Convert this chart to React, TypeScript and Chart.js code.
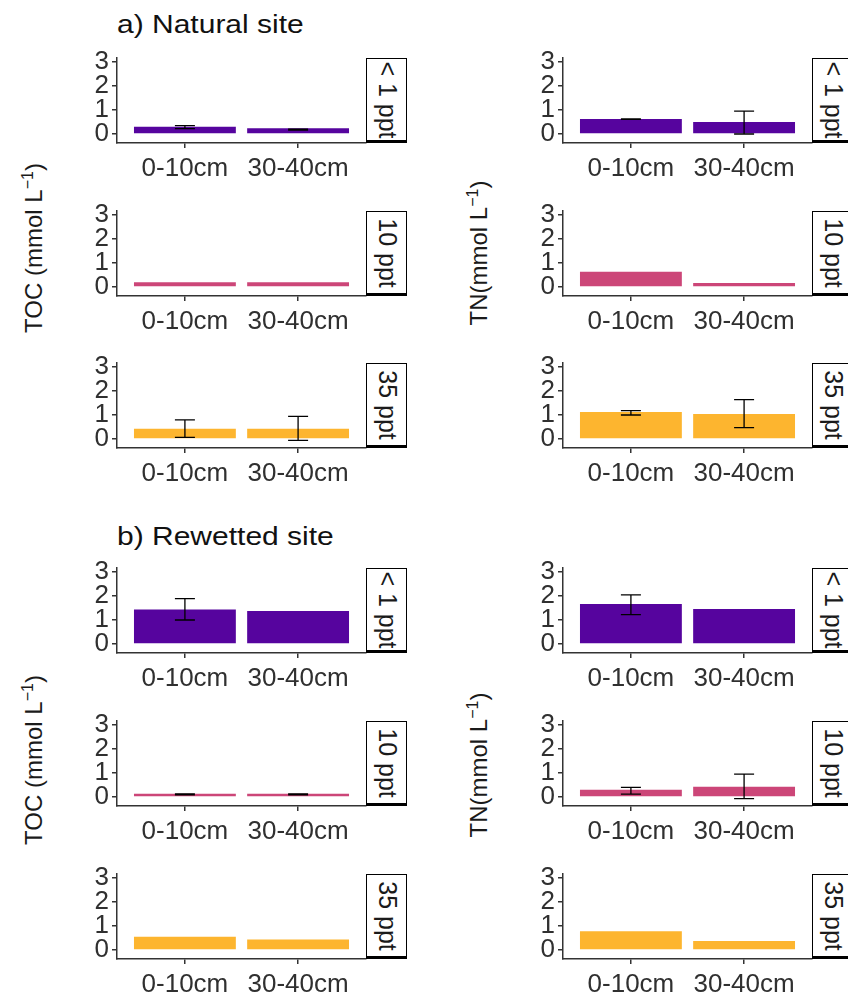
import React, { useEffect, useRef } from "react";
import { Chart, registerables } from "chart.js";
Chart.register(...registerables);

// ---------- data ----------
const depths = ["0-10cm", "30-40cm"];
const salinities = ["< 1 ppt", "10 ppt", "35 ppt"];
const salinityColors = ["#56049E", "#CC4678", "#FDB52F"];
const yTicks = [0, 1, 2, 3];
const siteTitles = ["a) Natural site", "b) Rewetted site"];
const variableTitles = ["TOC (mmol L", "TN(mmol L"];

// means per salinity: [0-10cm, 30-40cm]
const naturalTOC = [[0.30, 0.24], [0.20, 0.20], [0.43, 0.43]];
const naturalTOCLow = [[0.22, 0.16], [null, null], [0.07, -0.06]];
const naturalTOCHigh = [[0.35, 0.20], [null, null], [0.80, 0.94]];

const naturalTN = [[0.63, 0.50], [0.64, 0.17], [1.12, 1.04]];
const naturalTNLow = [[0.61, 0.00], [null, null], [1.00, 0.47]];
const naturalTNHigh = [[0.63, 0.95], [null, null], [1.18, 1.64]];

const rewettedTOC = [[1.44, 1.37], [0.14, 0.14], [0.55, 0.44]];
const rewettedTOCLow = [[1.00, null], [0.09, 0.09], [null, null]];
const rewettedTOCHigh = [[1.89, null], [0.13, 0.13], [null, null]];

const rewettedTN = [[1.67, 1.46], [0.30, 0.43], [0.78, 0.37]];
const rewettedTNLow = [[1.22, null], [0.12, -0.07], [null, null]];
const rewettedTNHigh = [[2.05, null], [0.40, 0.95], [null, null]];

// ---------- layout ----------
const FONT = "'Liberation Sans', Arial, 'DejaVu Sans', sans-serif";
const AXIS_X = [117, 563];
const ZERO_Y = [[134, 287, 439], [644, 797, 950]];
const PX_PER_UNIT = 24;
const Y_MIN = -0.375;
const Y_MAX = 3.167;
const PANEL_W = 249;
const PANEL_H = Math.round((Y_MAX - Y_MIN) * PX_PER_UNIT);
const LEFT_AREA = 60;
const TOP_PAD = 14;
const BOTTOM_AREA = 48;
const STRIP_W = 41;

const errorBarPlugin = {
  id: "errorBars",
  afterDatasetsDraw(chart: any) {
    const { ctx } = chart;
    const lo: (number | null)[] = chart.options.plugins.errorBars.lo;
    const hi: (number | null)[] = chart.options.plugins.errorBars.hi;
    const meta = chart.getDatasetMeta(0);
    const ys = chart.scales.y;
    ctx.save();
    ctx.strokeStyle = "#000";
    ctx.lineWidth = 1.3;
    meta.data.forEach((el: any, i: number) => {
      if (lo[i] == null || hi[i] == null) return;
      const x = el.x;
      const y1 = ys.getPixelForValue(lo[i]);
      const y2 = ys.getPixelForValue(hi[i]);
      ctx.beginPath();
      ctx.moveTo(x, y1);
      ctx.lineTo(x, y2);
      ctx.moveTo(x - 10, y1);
      ctx.lineTo(x + 10, y1);
      ctx.moveTo(x - 10, y2);
      ctx.lineTo(x + 10, y2);
      ctx.stroke();
    });
    ctx.restore();
  },
};

type PanelProps = {
  axisX: number;
  top: number;
  means: number[];
  lo: (number | null)[];
  hi: (number | null)[];
  color: string;
  label: string;
};

function Panel({ axisX, top, means, lo, hi, color, label }: PanelProps) {
  const ref = useRef<HTMLCanvasElement>(null);
  useEffect(() => {
    if (!ref.current) return;
    const tickFont = { family: FONT, size: 26 };
    const chart = new Chart(ref.current, {
      type: "bar",
      data: {
        datasets: [
          {
            data: depths.map((_, i) => ({ x: i, y: means[i] })),
            backgroundColor: color,
            borderWidth: 0,
            barPercentage: 0.9,
            categoryPercentage: 1.0,
          },
        ],
      },
      options: {
        animation: false,
        responsive: false,
        maintainAspectRatio: false,
        layout: { padding: { top: TOP_PAD, right: 4, left: 0, bottom: 0 } },
        plugins: {
          legend: { display: false },
          tooltip: { enabled: false },
          errorBars: { lo, hi },
        } as any,
        scales: {
          x: {
            type: "linear",
            offset: false,
            min: -0.6,
            max: 1.6,
            afterBuildTicks: (s: any) => {
              s.ticks = depths.map((_, i) => ({ value: i }));
            },
            afterFit: (s: any) => {
              s.height = BOTTOM_AREA;
              s.paddingLeft = 0;
              s.paddingRight = 0;
            },
            ticks: {
              callback: (v: any) => depths[Math.round(Number(v))],
              font: tickFont,
              color: "#303030",
              padding: 5,
              autoSkip: false,
              maxRotation: 0,
              minRotation: 0,
            },
            grid: {
              display: true,
              offset: false,
              drawOnChartArea: false,
              drawTicks: true,
              tickLength: 5,
              color: "#333",
              lineWidth: 1.5,
            },
            border: { display: true, color: "#333", width: 1.5 },
          },
          y: {
            type: "linear",
            min: Y_MIN,
            max: Y_MAX,
            afterBuildTicks: (s: any) => {
              s.ticks = yTicks.map((v) => ({ value: v }));
            },
            afterFit: (s: any) => {
              s.width = LEFT_AREA;
              s.paddingTop = 0;
              s.paddingBottom = 0;
            },
            ticks: {
              font: tickFont,
              color: "#303030",
              padding: 3,
              autoSkip: false,
              callback: (v: any) => String(v),
            },
            grid: {
              display: true,
              drawOnChartArea: false,
              drawTicks: true,
              tickLength: 5,
              color: "#333",
              lineWidth: 1.5,
            },
            border: { display: true, color: "#333", width: 1.5 },
          },
        },
      } as any,
      plugins: [errorBarPlugin as any],
    });
    return () => chart.destroy();
  }, []);

  return (
    <>
      <canvas
        ref={ref}
        width={LEFT_AREA + PANEL_W + 4}
        height={TOP_PAD + PANEL_H + BOTTOM_AREA}
        style={{
          position: "absolute",
          left: axisX - LEFT_AREA,
          top: top - TOP_PAD,
          width: LEFT_AREA + PANEL_W + 4,
          height: TOP_PAD + PANEL_H + BOTTOM_AREA,
        }}
      />
      <div
        style={{
          position: "absolute",
          left: axisX + PANEL_W,
          top: top,
          width: STRIP_W,
          height: PANEL_H,
          boxSizing: "border-box",
          border: "1.3px solid #000",
          borderBottom: "3px solid #000",
          background: "#fff",
          overflow: "hidden",
        }}
      >
        <div
          style={{
            position: "absolute",
            left: "50%",
            top: "50%",
            transform: "translate(-50%, -50%) rotate(90deg)",
            whiteSpace: "nowrap",
            fontFamily: FONT,
            fontSize: 25,
            lineHeight: "25px",
            color: "#1a1a1a",
          }}
        >
          {label}
        </div>
      </div>
    </>
  );
}

function YTitle({ x, y, name }: { x: number; y: number; name: string }) {
  return (
    <div
      style={{
        position: "absolute",
        left: x,
        top: y,
        transform: "translate(-50%, -50%) rotate(-90deg)",
        whiteSpace: "nowrap",
        fontFamily: FONT,
        fontSize: 24,
        lineHeight: "26px",
        color: "#1a1a1a",
      }}
    >
      {name}
      <sup style={{ fontSize: 16 }}>−1</sup>)
    </div>
  );
}

export default function App() {
  const sites = [
    { toc: [naturalTOC, naturalTOCLow, naturalTOCHigh], tn: [naturalTN, naturalTNLow, naturalTNHigh] },
    { toc: [rewettedTOC, rewettedTOCLow, rewettedTOCHigh], tn: [rewettedTN, rewettedTNLow, rewettedTNHigh] },
  ];
  const titleTops = [12, 524];
  const yTitleCenters = [
    [248, 253],
    [760, 765],
  ];
  return (
    <div
      style={{
        position: "absolute",
        left: 0,
        top: 0,
        width: 848,
        height: 997,
        overflow: "hidden",
        background: "#fff",
      }}
    >
      {sites.map((site, si) => (
        <React.Fragment key={si}>
          <div
            style={{
              position: "absolute",
              left: 117,
              top: titleTops[si],
              fontFamily: FONT,
              fontSize: 25,
              lineHeight: "25px",
              whiteSpace: "nowrap",
              transform: "scaleX(1.2)",
              transformOrigin: "left center",
              color: "#111",
            }}
          >
            {siteTitles[si]}
          </div>
          <YTitle x={31} y={yTitleCenters[si][0]} name={variableTitles[0]} />
          <YTitle x={476} y={yTitleCenters[si][1]} name={variableTitles[1]} />
          {[site.toc, site.tn].map((v, vi) =>
            salinities.map((sal, ri) => (
              <Panel
                key={`${si}-${vi}-${ri}`}
                axisX={AXIS_X[vi]}
                top={ZERO_Y[si][ri] - Math.round(Y_MAX * PX_PER_UNIT)}
                means={v[0][ri] as number[]}
                lo={v[1][ri] as (number | null)[]}
                hi={v[2][ri] as (number | null)[]}
                color={salinityColors[ri]}
                label={sal}
              />
            ))
          )}
        </React.Fragment>
      ))}
    </div>
  );
}
